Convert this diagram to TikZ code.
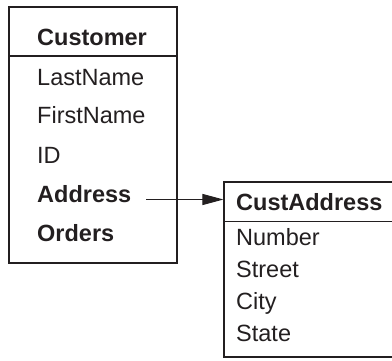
\documentclass[tikz,border=0pt]{standalone}
\usepackage{fontspec}
\setmainfont{Liberation Sans}
\usetikzlibrary{arrows.meta}
\definecolor{ink}{HTML}{231F20}
\begin{document}
\begin{tikzpicture}[x=1pt,y=1pt,
  box/.style={draw=ink,line width=1.1pt,rectangle,inner sep=0pt},
  txt/.style={anchor=base west,inner sep=0pt,text=ink,font=\fontsize{23.5}{28}\selectfont},
  btxt/.style={txt,font=\fontsize{23.5}{28}\selectfont\bfseries},
  sep/.style={draw=ink,line width=1.1pt},
  conn/.style={draw=ink,line width=1pt,-{Triangle[length=21pt,width=11pt]}}]
\useasboundingbox (0,0) rectangle (392,360);
% Customer box
\node[box,minimum width=168pt,minimum height=256pt] (cust) at (93,225) {};
\coordinate (cs) at (9,304);
\draw[sep] (cs) -- (cs -| cust.east);
\node[btxt] (customer) at (37,315) {Customer};
\node[txt] (lastname) at (37,275) {LastName};
\node[txt] (firstname) at (37,237) {FirstName};
\node[txt] (id) at (37,197) {ID};
\node[btxt] (address) at (37,158) {Address};
\node[btxt] (orders) at (37,119) {Orders};
% CustAddress box
\node[box,minimum width=170pt,minimum height=175pt] (addr) at (309,90.5) {};
\coordinate (as) at (224,138.3);
\draw[sep] (as) -- (as -| addr.east);
\node[btxt] (custaddress) at (236,149.3) {CustAddress};
\node[txt] (number) at (236,115) {Number};
\node[txt] (street) at (236,83) {Street};
\node[txt] (city) at (236,51) {City};
\node[txt] (state) at (236,18.5) {State};
% connector
\coordinate (a1) at (146,160.5);
\draw[conn] (a1) -- (a1 -| addr.west);
\end{tikzpicture}
\end{document}
